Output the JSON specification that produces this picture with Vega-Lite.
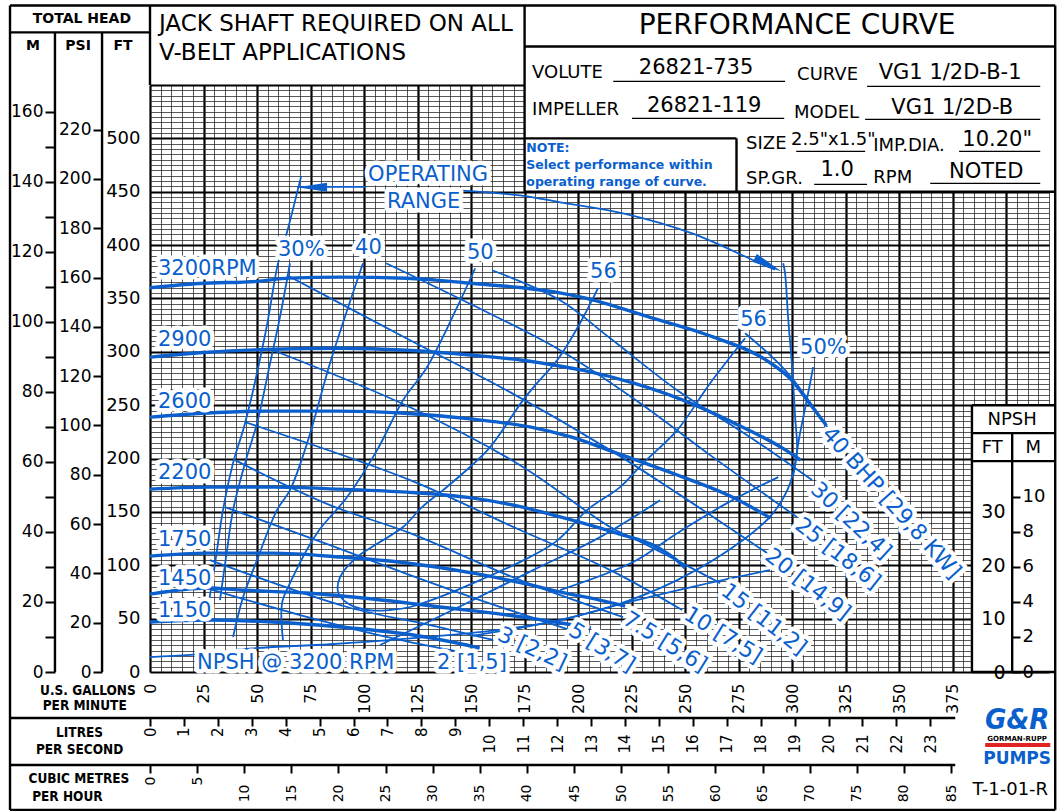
{
"$schema": "https://vega.github.io/schema/vega-lite/v6.json",
"width": 899, "height": 587,
"autosize": {"type": "none"},
"padding": {"left": 150, "top": 85, "right": 9, "bottom": 140},
"background": "white",
"config": {"view": {"stroke": null}, "font": "DejaVu Sans"},
"datasets": {
 "hlabels": [{"label":"3200RPM","gpm":3.7,"ft":377.3},{"label":"2900","gpm":3.7,"ft":311.3},{"label":"2600","gpm":3.7,"ft":253.3},{"label":"2200","gpm":3.7,"ft":186.8},{"label":"1750","gpm":3.7,"ft":123.6},{"label":"1450","gpm":3.7,"ft":87.1},{"label":"1150","gpm":3.7,"ft":57.1},{"label":"30%","gpm":59.8,"ft":395.1},{"label":"40","gpm":95.8,"ft":397},{"label":"50","gpm":148.1,"ft":392.3},{"label":"56","gpm":205.6,"ft":374.5},{"label":"56","gpm":275.7,"ft":329.6},{"label":"50%","gpm":303.7,"ft":303.4},{"label":"OPERATING","gpm":101.9,"ft":465.4},{"label":"RANGE","gpm":110.7,"ft":440.1},{"label":"NPSH @ 3200 RPM","gpm":22,"ft":8.4},{"label":"2 [1,5]","gpm":134.1,"ft":8.4}],
 "b48": [{"label":"40 BHP [29,8 KW]","gpm":315.9,"ft":226.6}],
 "b43": [{"label":"30 [22,4]","gpm":310.3,"ft":174.2}],
 "b38": [{"label":"25 [18,6]","gpm":302.8,"ft":140.4},{"label":"20 [14,9]","gpm":288.8,"ft":111.4},{"label":"15 [11,2]","gpm":268.2,"ft":78.7}],
 "b32": [{"label":"10 [7,5]","gpm":250.5,"ft":56.2},{"label":"7.5 [5,6]","gpm":222,"ft":51.5},{"label":"5 [3,7]","gpm":196.7,"ft":41.2}],
 "b25": [{"label":"3 [2,2]","gpm":163.1,"ft":36.5}]
},
"resolve": {"scale": {"x": "independent", "y": "independent"}, "axis": {"x": "independent", "y": "independent"}},
"layer": [
 {
  "data": {"values": [{"v": 0}]},
  "mark": {"type": "point", "opacity": 0},
  "encoding": {
   "x": {"field": "v", "type": "quantitative", "scale": {"domain": [0, 420], "nice": false, "zero": false},
    "axis": {"values": [0,5,10,15,20,25,30,35,40,45,50,55,60,65,70,75,80,85,90,95,100,105,110,115,120,125,130,135,140,145,150,155,160,165,170,175,180,185,190,195,200,205,210,215,220,225,230,235,240,245,250,255,260,265,270,275,280,285,290,295,300,305,310,315,320,325,330,335,340,345,350,355,360,365,370,375,380,385,390,395,400,405,410,415,420], "grid": true, "labels": false, "ticks": false, "domain": false, "title": null, "gridColor": "#222", "gridWidth": 1, "gridOpacity": 0.75}},
   "y": {"field": "v", "type": "quantitative", "scale": {"domain": [0, 550], "nice": false, "zero": false},
    "axis": {"values": [0,5,10,15,20,25,30,35,40,45,50,55,60,65,70,75,80,85,90,95,100,105,110,115,120,125,130,135,140,145,150,155,160,165,170,175,180,185,190,195,200,205,210,215,220,225,230,235,240,245,250,255,260,265,270,275,280,285,290,295,300,305,310,315,320,325,330,335,340,345,350,355,360,365,370,375,380,385,390,395,400,405,410,415,420,425,430,435,440,445,450,455,460,465,470,475,480,485,490,495,500,505,510,515,520,525,530,535,540,545,550], "grid": true, "labels": false, "ticks": false, "domain": false, "title": null, "gridColor": "#222", "gridWidth": 1, "gridOpacity": 0.75}}
  }
 },
 {
  "data": {"values": [{"v": 0}]},
  "mark": {"type": "point", "opacity": 0},
  "encoding": {
   "x": {"field": "v", "type": "quantitative", "scale": {"domain": [0, 420], "nice": false, "zero": false},
    "axis": {"values": [0,25,50,75,100,125,150,175,200,225,250,275,300,325,350,375,400], "grid": true, "labels": false, "ticks": false, "domain": false, "title": null, "gridColor": "#000", "gridWidth": 2.2}},
   "y": {"field": "v", "type": "quantitative", "scale": {"domain": [0, 550], "nice": false, "zero": false},
    "axis": {"values": [0,50,100,150,200,250,300,350,400,450,500,550], "grid": true, "labels": false, "ticks": false, "domain": false, "title": null, "gridColor": "#000", "gridWidth": 2.2}}
  }
 },
 {
  "data": {"values": [{"gpm":0,"npsh":2.8},{"gpm":18.7,"npsh":3.2},{"gpm":43.5,"npsh":4.3},{"gpm":84.1,"npsh":5.2},{"gpm":124.8,"npsh":6.4},{"gpm":158.9,"npsh":7.7},{"gpm":190.2,"npsh":9.6},{"gpm":219.6,"npsh":12.7},{"gpm":257,"npsh":16.3},{"gpm":289.7,"npsh":19.1}]},
  "mark": {"type": "line", "color": "#0a5fcc", "strokeWidth": 1.8, "interpolate": "monotone"},
  "encoding": {
   "x": {"field": "gpm", "type": "quantitative", "scale": {"domain": [0, 420], "nice": false, "zero": false}, "axis": null},
   "y": {"field": "npsh", "type": "quantitative", "scale": {"domain": [0, 110], "nice": false, "zero": false},
    "axis": {"orient": "left", "offset": -862, "values": [0,10,20,30], "ticks": false, "domain": false, "grid": false, "title": null, "labelPadding": 7, "labelFontSize": 19, "labelColor": "#000", "labelFont": "DejaVu Sans", "zindex": 1}}
  }
 },
 {
  "encoding": {
   "x": {"field": "gpm", "type": "quantitative", "scale": {"domain": [0, 420], "nice": false, "zero": false},
    "axis": {"orient": "bottom", "values": [0,25,50,75,100,125,150,175,200,225,250,275,300,325,350,375], "labelAngle": -90, "labelAlign": "right", "labelBaseline": "middle", "labelPadding": 11, "ticks": false, "domain": false, "grid": false, "title": null, "labelFontSize": 16, "labelColor": "#000", "labelFont": "DejaVu Sans", "labelFlush": false, "labelOverlap": false, "zindex": 1}},
   "y": {"field": "ft", "type": "quantitative", "scale": {"domain": [0, 550], "nice": false, "zero": false},
    "axis": {"orient": "left", "values": [0,50,100,150,200,250,300,350,400,450,500], "ticks": false, "domain": false, "grid": false, "title": null, "labelPadding": 10, "labelFontSize": 18, "labelColor": "#000", "labelFont": "DejaVu Sans", "labelOverlap": false, "zindex": 1}}
  },
  "layer": [
   {
    "data": {"values": [{"gpm":175,"gpm2":423,"ft":450,"ft2":552},{"gpm":384,"gpm2":423,"ft":0,"ft2":250}]},
    "mark": {"type": "rect", "fill": "white", "clip": false},
    "encoding": {"x2": {"field": "gpm2"}, "y2": {"field": "ft2"}}
   },
   {
    "data": {"values": [
     {"gpm":-65.4,"ft":624.5,"gpm2":422.9,"ft2":624.5},
     {"gpm":-65.4,"ft":-129.2,"gpm2":422.9,"ft2":-129.2},
     {"gpm":-65.4,"ft":624.5,"gpm2":-65.4,"ft2":-129.2},
     {"gpm":422.9,"ft":624.5,"gpm2":422.9,"ft2":-129.2},
     {"gpm":-65.4,"ft":599.3,"gpm2":0,"ft2":599.3},
     {"gpm":0,"ft":624.5,"gpm2":0,"ft2":550},
     {"gpm":-44.4,"ft":599.3,"gpm2":-44.4,"ft2":0},
     {"gpm":-22.4,"ft":599.3,"gpm2":-22.4,"ft2":0},
     {"gpm":175,"ft":624.5,"gpm2":175,"ft2":450},
     {"gpm":175,"ft":586.1,"gpm2":422.9,"ft2":586.1},
     {"gpm":175,"ft":450,"gpm2":422.9,"ft2":450},
     {"gpm":175,"ft":500,"gpm2":274,"ft2":500},
     {"gpm":274,"ft":500,"gpm2":274,"ft2":450},
     {"gpm":384,"ft":250,"gpm2":422.9,"ft2":250},
     {"gpm":384,"ft":250,"gpm2":384,"ft2":0},
     {"gpm":384,"ft":223.8,"gpm2":422.9,"ft2":223.8},
     {"gpm":384,"ft":197.6,"gpm2":422.9,"ft2":197.6},
     {"gpm":402.8,"ft":223.8,"gpm2":402.8,"ft2":0},
     {"gpm":384,"ft":0,"gpm2":422.9,"ft2":0},
     {"gpm":-65.4,"ft":-43.1,"gpm2":376.2,"ft2":-43.1},
     {"gpm":-65.4,"ft":-87.1,"gpm2":376.2,"ft2":-87.1}
    ]},
    "mark": {"type": "rule", "color": "#000", "strokeWidth": 2.4, "clip": false},
    "encoding": {"x2": {"field": "gpm2"}, "y2": {"field": "ft2"}}
   },
   {
    "data": {"values": [
     {"gpm":216.4,"ft":553.4,"gpm2":296.7,"ft2":553.4},
     {"gpm":335,"ft":548.7,"gpm2":415.9,"ft2":548.7},
     {"gpm":225.2,"ft":518.7,"gpm2":296.3,"ft2":518.7},
     {"gpm":334.1,"ft":517.8,"gpm2":415.9,"ft2":517.8},
     {"gpm":301.9,"ft":487.8,"gpm2":334.1,"ft2":487.8},
     {"gpm":378,"ft":487.8,"gpm2":415.9,"ft2":487.8},
     {"gpm":310.3,"ft":456.9,"gpm2":335,"ft2":456.9},
     {"gpm":364.5,"ft":457.9,"gpm2":415.9,"ft2":457.9}
    ]},
    "mark": {"type": "rule", "color": "#000", "strokeWidth": 1.3, "clip": false},
    "encoding": {"x2": {"field": "gpm2"}, "y2": {"field": "ft2"}}
   },
   {
    "data": {"values": [{"gpm":390.2,"ft":-68.4,"gpm2":420.6,"ft2":-68.4}]},
    "mark": {"type": "rule", "color": "#e02323", "strokeWidth": 4, "clip": false},
    "encoding": {"x2": {"field": "gpm2"}, "y2": {"field": "ft2"}}
   },
   {
    "data": {"values": [{"label":"TOTAL HEAD","gpm":-31.8,"ft":611.4},{"label":"M","gpm":-54.7,"ft":587},{"label":"PSI","gpm":-33.6,"ft":587},{"label":"FT","gpm":-12.6,"ft":587}]},
    "mark": {"type": "text", "align": "center", "baseline": "middle", "fontSize": 14, "fontWeight": "bold", "font": "DejaVu Sans", "color": "#000", "clip": false},
    "encoding": {"text": {"field": "label"}}
   },
   {
    "data": {"values": [{"label":"JACK SHAFT REQUIRED ON ALL","gpm":4.2,"ft":606.7},{"label":"V-BELT APPLICATIONS","gpm":4.2,"ft":580}]},
    "mark": {"type": "text", "align": "left", "baseline": "middle", "fontSize": 23, "font": "DejaVu Sans", "color": "#000", "clip": false},
    "encoding": {"text": {"field": "label"}}
   },
   {
    "data": {"values": [{"label":"PERFORMANCE CURVE","gpm":302.3,"ft":604.9}]},
    "mark": {"type": "text", "align": "center", "baseline": "middle", "fontSize": 28, "font": "DejaVu Sans", "color": "#000", "clip": false},
    "encoding": {"text": {"field": "label"}}
   },
   {
    "data": {"values": [{"label":"VOLUTE","gpm":178.5,"ft":560.9},{"label":"CURVE","gpm":302.3,"ft":559},{"label":"IMPELLER","gpm":178.5,"ft":526.2},{"label":"MODEL","gpm":300.9,"ft":523.4},{"label":"SIZE","gpm":278.5,"ft":494.4},{"label":"2.5\"x1.5\"","gpm":299.5,"ft":498.1},{"label":"IMP.DIA.","gpm":337.9,"ft":492.5},{"label":"SP.GR.","gpm":278.5,"ft":461.6},{"label":"RPM","gpm":337.9,"ft":462.5}]},
    "mark": {"type": "text", "align": "left", "baseline": "middle", "fontSize": 18, "font": "DejaVu Sans", "color": "#000", "clip": false},
    "encoding": {"text": {"field": "label"}}
   },
   {
    "data": {"values": [{"label":"26821-735","gpm":255.1,"ft":565.5},{"label":"VG1 1/2D-B-1","gpm":373.8,"ft":560.9},{"label":"26821-119","gpm":258.9,"ft":530},{"label":"VG1 1/2D-B","gpm":374.8,"ft":528.1},{"label":"10.20\"","gpm":395.8,"ft":498.1},{"label":"1.0","gpm":321,"ft":470},{"label":"NOTED","gpm":390.7,"ft":468.2}]},
    "mark": {"type": "text", "align": "center", "baseline": "middle", "fontSize": 21, "font": "DejaVu Sans", "color": "#000", "clip": false},
    "encoding": {"text": {"field": "label"}}
   },
   {
    "data": {"values": [{"label":"U.S. GALLONS","gpm":-29,"ft":-17.5},{"label":"PER MINUTE","gpm":-30.5,"ft":-31.5},{"label":"LITRES","gpm":-32.9,"ft":-57.1},{"label":"PER SECOND","gpm":-32.9,"ft":-73},{"label":"CUBIC METRES","gpm":-33.2,"ft":-100.2},{"label":"PER HOUR","gpm":-38.6,"ft":-117}]},
    "mark": {"type": "text", "align": "center", "baseline": "middle", "fontSize": 13.5, "fontWeight": "bold", "font": "DejaVu Sans Condensed, Liberation Sans Narrow, Liberation Sans", "color": "#000", "clip": false},
    "encoding": {"text": {"field": "label"}}
   },
   {
    "data": {"values": [{"label":"NPSH","gpm":402.8,"ft":236},{"label":"FT","gpm":393.5,"ft":209.7},{"label":"M","gpm":412.6,"ft":209.7},{"label":"T-1-01-R","gpm":401.9,"ft":-110.5}]},
    "mark": {"type": "text", "align": "center", "baseline": "middle", "fontSize": 18, "font": "DejaVu Sans", "color": "#000", "clip": false},
    "encoding": {"text": {"field": "label"}}
   },
   {
    "data": {"values": [{"label":"G&R","gpm":405.1,"ft":-44.9}]},
    "mark": {"type": "text", "align": "center", "baseline": "middle", "fontSize": 29, "fontWeight": "bold", "fontStyle": "italic", "font": "DejaVu Sans Condensed, DejaVu Sans", "color": "#0a5fcc", "clip": false},
    "encoding": {"text": {"field": "label"}}
   },
   {
    "data": {"values": [{"label":"GORMAN-RUPP","gpm":405.1,"ft":-63.2}]},
    "mark": {"type": "text", "align": "center", "baseline": "middle", "fontSize": 7, "fontWeight": "bold", "font": "DejaVu Sans", "color": "#000", "clip": false},
    "encoding": {"text": {"field": "label"}}
   },
   {
    "data": {"values": [{"label":"PUMPS","gpm":405.1,"ft":-81.5}]},
    "mark": {"type": "text", "align": "center", "baseline": "middle", "fontSize": 17, "fontWeight": "bold", "font": "DejaVu Sans", "color": "#0a5fcc", "clip": false},
    "encoding": {"text": {"field": "label"}}
   },
   {
    "data": {"values": [{"label":"NOTE:","gpm":175.8,"ft":490.6},{"label":"Select performance within","gpm":175.8,"ft":474.7},{"label":"operating range of curve.","gpm":175.8,"ft":458.8}]},
    "mark": {"type": "text", "align": "left", "baseline": "middle", "fontSize": 12.5, "fontWeight": "bold", "font": "DejaVu Sans", "color": "#0a5fcc", "clip": false},
    "encoding": {"text": {"field": "label"}}
   },
   {
    "data": {"values": [
     {"rpm":"3200","seq":0,"gpm":0,"ft":360},{"rpm":"3200","seq":1,"gpm":23,"ft":364},{"rpm":"3200","seq":2,"gpm":50,"ft":366},{"rpm":"3200","seq":3,"gpm":65,"ft":369},{"rpm":"3200","seq":4,"gpm":89,"ft":370},{"rpm":"3200","seq":5,"gpm":120,"ft":369},{"rpm":"3200","seq":6,"gpm":151,"ft":364},{"rpm":"3200","seq":7,"gpm":174,"ft":360},{"rpm":"3200","seq":8,"gpm":192,"ft":355},{"rpm":"3200","seq":9,"gpm":202,"ft":351},{"rpm":"3200","seq":10,"gpm":234,"ft":332},{"rpm":"3200","seq":11,"gpm":263,"ft":314},{"rpm":"3200","seq":12,"gpm":288,"ft":292},{"rpm":"3200","seq":13,"gpm":300,"ft":273},{"rpm":"3200","seq":14,"gpm":308,"ft":252},{"rpm":"3200","seq":15,"gpm":316,"ft":231},
     {"rpm":"2900","seq":0,"gpm":0,"ft":295},{"rpm":"2900","seq":1,"gpm":27,"ft":299.6},{"rpm":"2900","seq":2,"gpm":57.5,"ft":302.4},{"rpm":"2900","seq":3,"gpm":89,"ft":303.4},{"rpm":"2900","seq":4,"gpm":120,"ft":301.5},{"rpm":"2900","seq":5,"gpm":151,"ft":296.8},{"rpm":"2900","seq":6,"gpm":174,"ft":292.1},{"rpm":"2900","seq":7,"gpm":192,"ft":286.5},{"rpm":"2900","seq":8,"gpm":202,"ft":282.8},{"rpm":"2900","seq":9,"gpm":226,"ft":270.6},{"rpm":"2900","seq":10,"gpm":249,"ft":254.7},{"rpm":"2900","seq":11,"gpm":272,"ft":234.1},{"rpm":"2900","seq":12,"gpm":297,"ft":207.9},{"rpm":"2900","seq":13,"gpm":304,"ft":198.5},
     {"rpm":"2600","seq":0,"gpm":0,"ft":238.8},{"rpm":"2600","seq":1,"gpm":25,"ft":242.5},{"rpm":"2600","seq":2,"gpm":56,"ft":244.4},{"rpm":"2600","seq":3,"gpm":88,"ft":244.4},{"rpm":"2600","seq":4,"gpm":119,"ft":242.5},{"rpm":"2600","seq":5,"gpm":151,"ft":236.9},{"rpm":"2600","seq":6,"gpm":178,"ft":229.4},{"rpm":"2600","seq":7,"gpm":197,"ft":220},{"rpm":"2600","seq":8,"gpm":218,"ft":205.1},{"rpm":"2600","seq":9,"gpm":249,"ft":182.6},{"rpm":"2600","seq":10,"gpm":272,"ft":163.9},{"rpm":"2600","seq":11,"gpm":290,"ft":144.2},
     {"rpm":"2200","seq":0,"gpm":0,"ft":171.3},{"rpm":"2200","seq":1,"gpm":27,"ft":173.2},{"rpm":"2200","seq":2,"gpm":57.5,"ft":173.2},{"rpm":"2200","seq":3,"gpm":89,"ft":171.3},{"rpm":"2200","seq":4,"gpm":120,"ft":168.5},{"rpm":"2200","seq":5,"gpm":151,"ft":162.9},{"rpm":"2200","seq":6,"gpm":174,"ft":154.5},{"rpm":"2200","seq":7,"gpm":192,"ft":145.1},{"rpm":"2200","seq":8,"gpm":218,"ft":130.1},{"rpm":"2200","seq":9,"gpm":237,"ft":117},{"rpm":"2200","seq":10,"gpm":246,"ft":104.9},{"rpm":"2200","seq":11,"gpm":250,"ft":97.4},
     {"rpm":"1750","seq":0,"gpm":0,"ft":108.6},{"rpm":"1750","seq":1,"gpm":27,"ft":111.4},{"rpm":"1750","seq":2,"gpm":57.5,"ft":111.4},{"rpm":"1750","seq":3,"gpm":89,"ft":107.7},{"rpm":"1750","seq":4,"gpm":120,"ft":102.1},{"rpm":"1750","seq":5,"gpm":151,"ft":92.7},{"rpm":"1750","seq":6,"gpm":174,"ft":83.3},{"rpm":"1750","seq":7,"gpm":192,"ft":74.9},{"rpm":"1750","seq":8,"gpm":210,"ft":67.4},{"rpm":"1750","seq":9,"gpm":222,"ft":61.8},
     {"rpm":"1450","seq":0,"gpm":0,"ft":73},{"rpm":"1450","seq":1,"gpm":27,"ft":78.7},{"rpm":"1450","seq":2,"gpm":42,"ft":76.8},{"rpm":"1450","seq":3,"gpm":73,"ft":74},{"rpm":"1450","seq":4,"gpm":104,"ft":68.4},{"rpm":"1450","seq":5,"gpm":135.5,"ft":60.9},{"rpm":"1450","seq":6,"gpm":167,"ft":53.4},{"rpm":"1450","seq":7,"gpm":192,"ft":45.9},{"rpm":"1450","seq":8,"gpm":206,"ft":41.2},
     {"rpm":"1150","seq":0,"gpm":0,"ft":46.8},{"rpm":"1150","seq":1,"gpm":27,"ft":48.7},{"rpm":"1150","seq":2,"gpm":57.5,"ft":46.8},{"rpm":"1150","seq":3,"gpm":89,"ft":42.1},{"rpm":"1150","seq":4,"gpm":120,"ft":35.6},{"rpm":"1150","seq":5,"gpm":143.5,"ft":27.2},{"rpm":"1150","seq":6,"gpm":154,"ft":22.5}
    ]},
    "mark": {"type": "line", "color": "#0a5fcc", "strokeWidth": 3.4, "interpolate": "monotone"},
    "encoding": {"detail": {"field": "rpm"}, "order": {"field": "seq", "type": "quantitative"}}
   },
   {
    "data": {"values": [
     {"curve":"op_left","seq":0,"gpm":70.6,"ft":464.4},{"curve":"op_left","seq":1,"gpm":64,"ft":412},{"curve":"op_left","seq":2,"gpm":59.8,"ft":382.9},{"curve":"op_left","seq":3,"gpm":54.2,"ft":320.2},{"curve":"op_left","seq":4,"gpm":44.4,"ft":233.1},{"curve":"op_left","seq":5,"gpm":38.8,"ft":195.7},{"curve":"op_left","seq":6,"gpm":34.1,"ft":151.7},{"curve":"op_left","seq":7,"gpm":31.3,"ft":114.2},{"curve":"op_left","seq":8,"gpm":29,"ft":83.3},{"curve":"op_left","seq":9,"gpm":27.6,"ft":67.4},
     {"curve":"eff30","seq":0,"gpm":65.4,"ft":383},{"curve":"eff30","seq":1,"gpm":60.7,"ft":332.4},{"curve":"eff30","seq":2,"gpm":56.1,"ft":289.3},{"curve":"eff30","seq":3,"gpm":50,"ft":233.1},{"curve":"eff30","seq":4,"gpm":44.4,"ft":195.7},{"curve":"eff30","seq":5,"gpm":38.8,"ft":151.7},{"curve":"eff30","seq":6,"gpm":36,"ft":114.2},{"curve":"eff30","seq":7,"gpm":32.7,"ft":67.4},
     {"curve":"eff40","seq":0,"gpm":99.5,"ft":383},{"curve":"eff40","seq":1,"gpm":92.1,"ft":338.9},{"curve":"eff40","seq":2,"gpm":84.1,"ft":289.3},{"curve":"eff40","seq":3,"gpm":73.4,"ft":214.4},{"curve":"eff40","seq":4,"gpm":65.4,"ft":170.4},{"curve":"eff40","seq":5,"gpm":59.3,"ft":151.7},{"curve":"eff40","seq":6,"gpm":50,"ft":104.9},{"curve":"eff40","seq":7,"gpm":43.5,"ft":70.2},{"curve":"eff40","seq":8,"gpm":38.8,"ft":32.8},
     {"curve":"eff50L","seq":0,"gpm":151.9,"ft":378.3},{"curve":"eff50L","seq":1,"gpm":143.5,"ft":341.8},{"curve":"eff50L","seq":2,"gpm":129.4,"ft":285.6},{"curve":"eff50L","seq":3,"gpm":118.2,"ft":254.7},{"curve":"eff50L","seq":4,"gpm":106.1,"ft":207.9},{"curve":"eff50L","seq":5,"gpm":92.1,"ft":163.9},{"curve":"eff50L","seq":6,"gpm":78,"ft":130.1},{"curve":"eff50L","seq":7,"gpm":65.4,"ft":83.3},{"curve":"eff50L","seq":8,"gpm":61.7,"ft":64.6},{"curve":"eff50L","seq":9,"gpm":62.1,"ft":30},
     {"curve":"eff56","seq":0,"gpm":209.3,"ft":359.6},{"curve":"eff56","seq":1,"gpm":200.9,"ft":326.8},{"curve":"eff56","seq":2,"gpm":190.2,"ft":292.1},{"curve":"eff56","seq":3,"gpm":180.8,"ft":270.6},{"curve":"eff56","seq":4,"gpm":174.3,"ft":254.7},{"curve":"eff56","seq":5,"gpm":158.9,"ft":210.7},{"curve":"eff56","seq":6,"gpm":149.5,"ft":192.1},{"curve":"eff56","seq":7,"gpm":136.9,"ft":170.4},{"curve":"eff56","seq":8,"gpm":127.1,"ft":154.5},{"curve":"eff56","seq":9,"gpm":118.2,"ft":135.8},{"curve":"eff56","seq":10,"gpm":105.1,"ft":118.9},{"curve":"eff56","seq":11,"gpm":96.7,"ft":107.7},{"curve":"eff56","seq":12,"gpm":88.8,"ft":89},{"curve":"eff56","seq":13,"gpm":87.9,"ft":74.9},{"curve":"eff56","seq":14,"gpm":92.1,"ft":64.6},{"curve":"eff56","seq":15,"gpm":101.4,"ft":58.1},{"curve":"eff56","seq":16,"gpm":112.1,"ft":58.1},{"curve":"eff56","seq":17,"gpm":121.5,"ft":60.9},{"curve":"eff56","seq":18,"gpm":154.2,"ft":86.1},{"curve":"eff56","seq":19,"gpm":189.3,"ft":121.7},{"curve":"eff56","seq":20,"gpm":204.2,"ft":151.7},{"curve":"eff56","seq":21,"gpm":219.6,"ft":173.2},{"curve":"eff56","seq":22,"gpm":230.4,"ft":195.7},{"curve":"eff56","seq":23,"gpm":246.3,"ft":226.6},{"curve":"eff56","seq":24,"gpm":261.7,"ft":270.6},{"curve":"eff56","seq":25,"gpm":278,"ft":312.7},
     {"curve":"eff50R","seq":0,"gpm":309.8,"ft":285.6},{"curve":"eff50R","seq":1,"gpm":308.4,"ft":270.6},{"curve":"eff50R","seq":2,"gpm":303.7,"ft":223.8},{"curve":"eff50R","seq":3,"gpm":299.1,"ft":177},{"curve":"eff50R","seq":4,"gpm":291.1,"ft":148.9},{"curve":"eff50R","seq":5,"gpm":277.1,"ft":123.6},{"curve":"eff50R","seq":6,"gpm":246.3,"ft":86.1},{"curve":"eff50R","seq":7,"gpm":214.9,"ft":60.9},{"curve":"eff50R","seq":8,"gpm":182.2,"ft":44.9},{"curve":"eff50R","seq":9,"gpm":149.5,"ft":33.7},
     {"curve":"effA","seq":0,"gpm":107.5,"ft":25.3},{"curve":"effA","seq":1,"gpm":148.1,"ft":64.6},{"curve":"effA","seq":2,"gpm":179,"ft":95.5},{"curve":"effA","seq":3,"gpm":210.3,"ft":126.4},{"curve":"effA","seq":4,"gpm":238.3,"ft":161},
     {"curve":"effB","seq":0,"gpm":191.6,"ft":76.8},{"curve":"effB","seq":1,"gpm":225.7,"ft":103},{"curve":"effB","seq":2,"gpm":246.3,"ft":130.1},{"curve":"effB","seq":3,"gpm":269.6,"ft":158.2},{"curve":"effB","seq":4,"gpm":293.5,"ft":182.6},
     {"curve":"op_right","seq":0,"gpm":295.8,"ft":383},{"curve":"op_right","seq":1,"gpm":296.7,"ft":373.6},{"curve":"op_right","seq":2,"gpm":298.1,"ft":332.4},{"curve":"op_right","seq":3,"gpm":300,"ft":285.6},{"curve":"op_right","seq":4,"gpm":301.4,"ft":238.8},{"curve":"op_right","seq":5,"gpm":302.3,"ft":207.9},{"curve":"op_right","seq":6,"gpm":300.5,"ft":184.4},
     {"curve":"arrow","seq":0,"gpm":143.9,"ft":451.3},{"curve":"arrow","seq":1,"gpm":172.9,"ft":446.6},{"curve":"arrow","seq":2,"gpm":191.6,"ft":440.1},{"curve":"arrow","seq":3,"gpm":221,"ft":429.8},{"curve":"arrow","seq":4,"gpm":253.3,"ft":411},{"curve":"arrow","seq":5,"gpm":285,"ft":382.9},{"curve":"arrow","seq":6,"gpm":292,"ft":377},
     {"curve":"arrowL","seq":0,"gpm":68.7,"ft":454.6},{"curve":"arrowL","seq":1,"gpm":101,"ft":454.6},
     {"curve":"bhp40","seq":0,"gpm":278,"ft":317.4},{"curve":"bhp40","seq":1,"gpm":296.7,"ft":282.8},{"curve":"bhp40","seq":2,"gpm":316.4,"ft":229.4},
     {"curve":"bhp30","seq":0,"gpm":159.8,"ft":376.4},{"curve":"bhp30","seq":1,"gpm":191.6,"ft":348.3},{"curve":"bhp30","seq":2,"gpm":215,"ft":312.7},{"curve":"bhp30","seq":3,"gpm":246.3,"ft":264},{"curve":"bhp30","seq":4,"gpm":280.4,"ft":220},{"curve":"bhp30","seq":5,"gpm":309.3,"ft":179.8},
     {"curve":"bhp25","seq":0,"gpm":110.3,"ft":383},{"curve":"bhp25","seq":1,"gpm":150.9,"ft":343.6},{"curve":"bhp25","seq":2,"gpm":191.6,"ft":301.5},{"curve":"bhp25","seq":3,"gpm":229,"ft":251.9},{"curve":"bhp25","seq":4,"gpm":261.7,"ft":203.2},{"curve":"bhp25","seq":5,"gpm":302.3,"ft":145.1},
     {"curve":"bhp20","seq":0,"gpm":64,"ft":371.7},{"curve":"bhp20","seq":1,"gpm":121.5,"ft":310.9},{"curve":"bhp20","seq":2,"gpm":168.2,"ft":262.2},{"curve":"bhp20","seq":3,"gpm":215,"ft":207.9},{"curve":"bhp20","seq":4,"gpm":246.3,"ft":167.6},{"curve":"bhp20","seq":5,"gpm":288.3,"ft":111.4},
     {"curve":"bhp15","seq":0,"gpm":57.5,"ft":301.5},{"curve":"bhp15","seq":1,"gpm":121.5,"ft":248.1},{"curve":"bhp15","seq":2,"gpm":172.9,"ft":193.8},{"curve":"bhp15","seq":3,"gpm":215,"ft":135.8},{"curve":"bhp15","seq":4,"gpm":230.4,"ft":120.8},{"curve":"bhp15","seq":5,"gpm":266.4,"ft":83.3},
     {"curve":"bhp10","seq":0,"gpm":44.4,"ft":234.1},{"curve":"bhp10","seq":1,"gpm":121.5,"ft":179.8},{"curve":"bhp10","seq":2,"gpm":172.9,"ft":133},{"curve":"bhp10","seq":3,"gpm":215,"ft":95.5},{"curve":"bhp10","seq":4,"gpm":248.6,"ft":58.1},
     {"curve":"bhp7.5","seq":0,"gpm":39.7,"ft":198.5},{"curve":"bhp7.5","seq":1,"gpm":84.1,"ft":156.4},{"curve":"bhp7.5","seq":2,"gpm":121.5,"ft":130.1},{"curve":"bhp7.5","seq":3,"gpm":172.9,"ft":86.1},{"curve":"bhp7.5","seq":4,"gpm":221,"ft":51.5},
     {"curve":"bhp5","seq":0,"gpm":35,"ft":154.5},{"curve":"bhp5","seq":1,"gpm":84.1,"ft":118.9},{"curve":"bhp5","seq":2,"gpm":121.5,"ft":90.8},{"curve":"bhp5","seq":3,"gpm":154.2,"ft":67.4},{"curve":"bhp5","seq":4,"gpm":196.3,"ft":39.3},
     {"curve":"bhp3","seq":0,"gpm":28,"ft":104.9},{"curve":"bhp3","seq":1,"gpm":92.1,"ft":60.9},{"curve":"bhp3","seq":2,"gpm":130.8,"ft":44},{"curve":"bhp3","seq":3,"gpm":160.3,"ft":30},
     {"curve":"bhp2","seq":0,"gpm":24.8,"ft":79.6},{"curve":"bhp2","seq":1,"gpm":70.1,"ft":53.4},{"curve":"bhp2","seq":2,"gpm":116.8,"ft":30},{"curve":"bhp2","seq":3,"gpm":144.9,"ft":18.7}
    ]},
    "mark": {"type": "line", "color": "#0a5fcc", "strokeWidth": 1.8, "interpolate": "catmull-rom"},
    "encoding": {"detail": {"field": "curve"}, "order": {"field": "seq", "type": "quantitative"}}
   },
   {
    "data": {"values": [{"gpm":288.8,"ft":381.6}]},
    "mark": {"type": "point", "shape": "M1,0L-1,-0.3L-1,0.3Z", "size": 900, "filled": true, "opacity": 1, "color": "#0a5fcc", "angle": 27}
   },
   {
    "data": {"values": [{"gpm":75.7,"ft":454.1}]},
    "mark": {"type": "point", "shape": "M1,0L-1,-0.3L-1,0.3Z", "size": 900, "filled": true, "opacity": 1, "color": "#0a5fcc", "angle": 180}
   },
   {"data": {"name": "hlabels"}, "mark": {"type": "text", "align": "left", "baseline": "middle", "fontSize": 21, "font": "DejaVu Sans", "fill": "white", "stroke": "white", "strokeWidth": 9, "strokeJoin": "round", "clip": false}, "encoding": {"text": {"field": "label"}}},
   {"data": {"name": "hlabels"}, "mark": {"type": "text", "align": "left", "baseline": "middle", "fontSize": 21, "font": "DejaVu Sans", "fill": "#0a5fcc", "clip": false}, "encoding": {"text": {"field": "label"}}},
   {"data": {"name": "b48"}, "mark": {"type": "text", "align": "left", "baseline": "middle", "angle": 48, "fontSize": 22, "font": "DejaVu Sans", "fill": "white", "stroke": "white", "strokeWidth": 9, "strokeJoin": "round", "clip": false}, "encoding": {"text": {"field": "label"}}},
   {"data": {"name": "b48"}, "mark": {"type": "text", "align": "left", "baseline": "middle", "angle": 48, "fontSize": 22, "font": "DejaVu Sans", "fill": "#0a5fcc", "clip": false}, "encoding": {"text": {"field": "label"}}},
   {"data": {"name": "b43"}, "mark": {"type": "text", "align": "left", "baseline": "middle", "angle": 43, "fontSize": 22, "font": "DejaVu Sans", "fill": "white", "stroke": "white", "strokeWidth": 9, "strokeJoin": "round", "clip": false}, "encoding": {"text": {"field": "label"}}},
   {"data": {"name": "b43"}, "mark": {"type": "text", "align": "left", "baseline": "middle", "angle": 43, "fontSize": 22, "font": "DejaVu Sans", "fill": "#0a5fcc", "clip": false}, "encoding": {"text": {"field": "label"}}},
   {"data": {"name": "b38"}, "mark": {"type": "text", "align": "left", "baseline": "middle", "angle": 38, "fontSize": 22, "font": "DejaVu Sans", "fill": "white", "stroke": "white", "strokeWidth": 9, "strokeJoin": "round", "clip": false}, "encoding": {"text": {"field": "label"}}},
   {"data": {"name": "b38"}, "mark": {"type": "text", "align": "left", "baseline": "middle", "angle": 38, "fontSize": 22, "font": "DejaVu Sans", "fill": "#0a5fcc", "clip": false}, "encoding": {"text": {"field": "label"}}},
   {"data": {"name": "b32"}, "mark": {"type": "text", "align": "left", "baseline": "middle", "angle": 32, "fontSize": 22, "font": "DejaVu Sans", "fill": "white", "stroke": "white", "strokeWidth": 9, "strokeJoin": "round", "clip": false}, "encoding": {"text": {"field": "label"}}},
   {"data": {"name": "b32"}, "mark": {"type": "text", "align": "left", "baseline": "middle", "angle": 32, "fontSize": 22, "font": "DejaVu Sans", "fill": "#0a5fcc", "clip": false}, "encoding": {"text": {"field": "label"}}},
   {"data": {"name": "b25"}, "mark": {"type": "text", "align": "left", "baseline": "middle", "angle": 25, "fontSize": 22, "font": "DejaVu Sans", "fill": "white", "stroke": "white", "strokeWidth": 9, "strokeJoin": "round", "clip": false}, "encoding": {"text": {"field": "label"}}},
   {"data": {"name": "b25"}, "mark": {"type": "text", "align": "left", "baseline": "middle", "angle": 25, "fontSize": 22, "font": "DejaVu Sans", "fill": "#0a5fcc", "clip": false}, "encoding": {"text": {"field": "label"}}}
  ]
 },
 {
  "data": {"values": [{"v": 0}]},
  "mark": {"type": "point", "opacity": 0},
  "encoding": {
   "y": {"field": "v", "type": "quantitative", "scale": {"domain": [0, 238.095], "nice": false, "zero": false},
    "axis": {"orient": "left", "offset": 48, "values": [0,20,40,60,80,100,120,140,160,180,200,220], "tickSize": 9, "tickWidth": 2, "tickColor": "#000", "domain": false, "grid": false, "title": null, "labelPadding": 2, "labelFontSize": 17, "labelColor": "#000", "labelFont": "DejaVu Sans", "labelOverlap": false, "zindex": 1}}
  }
 },
 {
  "data": {"values": [{"v": 0}]},
  "mark": {"type": "point", "opacity": 0},
  "encoding": {
   "y": {"field": "v", "type": "quantitative", "scale": {"domain": [0, 167.64], "nice": false, "zero": false},
    "axis": {"orient": "left", "offset": 95, "values": [0,10,20,30,40,50,60,70,80,90,100,110,120,130,140,150,160], "labelExpr": "datum.value % 20 == 0 ? datum.label : ''", "tickSize": 10, "tickWidth": 2, "tickColor": "#000", "domain": false, "grid": false, "title": null, "labelPadding": 2, "labelFontSize": 17, "labelColor": "#000", "labelFont": "DejaVu Sans", "labelOverlap": false, "zindex": 1}}
  }
 },
 {
  "data": {"values": [{"v": 0}]},
  "mark": {"type": "point", "opacity": 0},
  "encoding": {
   "y": {"field": "v", "type": "quantitative", "scale": {"domain": [0, 33.528], "nice": false, "zero": false},
    "axis": {"orient": "right", "offset": -37, "values": [0,2,4,6,8,10], "tickSize": 8, "tickWidth": 2, "tickColor": "#000", "domain": false, "grid": false, "title": null, "labelPadding": 2, "labelFontSize": 18, "labelColor": "#000", "labelFont": "DejaVu Sans", "labelOverlap": false, "zindex": 1}}
  }
 },
 {
  "data": {"values": [{"v": 0}]},
  "mark": {"type": "point", "opacity": 0},
  "encoding": {
   "x": {"field": "v", "type": "quantitative", "scale": {"domain": [0, 26.498], "nice": false, "zero": false},
    "axis": {"orient": "bottom", "offset": 46, "values": [0,1,2,3,4,5,6,7,8,9,10,11,12,13,14,15,16,17,18,19,20,21,22,23], "tickSize": 8, "tickWidth": 2, "tickColor": "#000", "domain": false, "grid": false, "title": null, "labelAngle": -90, "labelAlign": "right", "labelBaseline": "middle", "labelPadding": {"condition": {"test": "datum.value >= 10", "value": 8}, "value": 1}, "labelFontSize": 15, "labelColor": "#000", "labelFont": "DejaVu Sans", "labelFlush": false, "labelOverlap": false, "zindex": 1}}
  }
 },
 {
  "data": {"values": [{"v": 0}]},
  "mark": {"type": "point", "opacity": 0},
  "encoding": {
   "x": {"field": "v", "type": "quantitative", "scale": {"domain": [0, 95.392], "nice": false, "zero": false},
    "axis": {"orient": "bottom", "offset": 93, "values": [0,5,10,15,20,25,30,35,40,45,50,55,60,65,70,75,80,85], "tickSize": 8, "tickWidth": 2, "tickColor": "#000", "domain": false, "grid": false, "title": null, "labelAngle": -90, "labelAlign": "right", "labelBaseline": "middle", "labelPadding": {"condition": {"test": "datum.value >= 10", "value": 11}, "value": 3}, "labelFontSize": 14, "labelColor": "#000", "labelFont": "DejaVu Sans", "labelFlush": false, "labelOverlap": false, "zindex": 1}}
  }
 }
]
}
